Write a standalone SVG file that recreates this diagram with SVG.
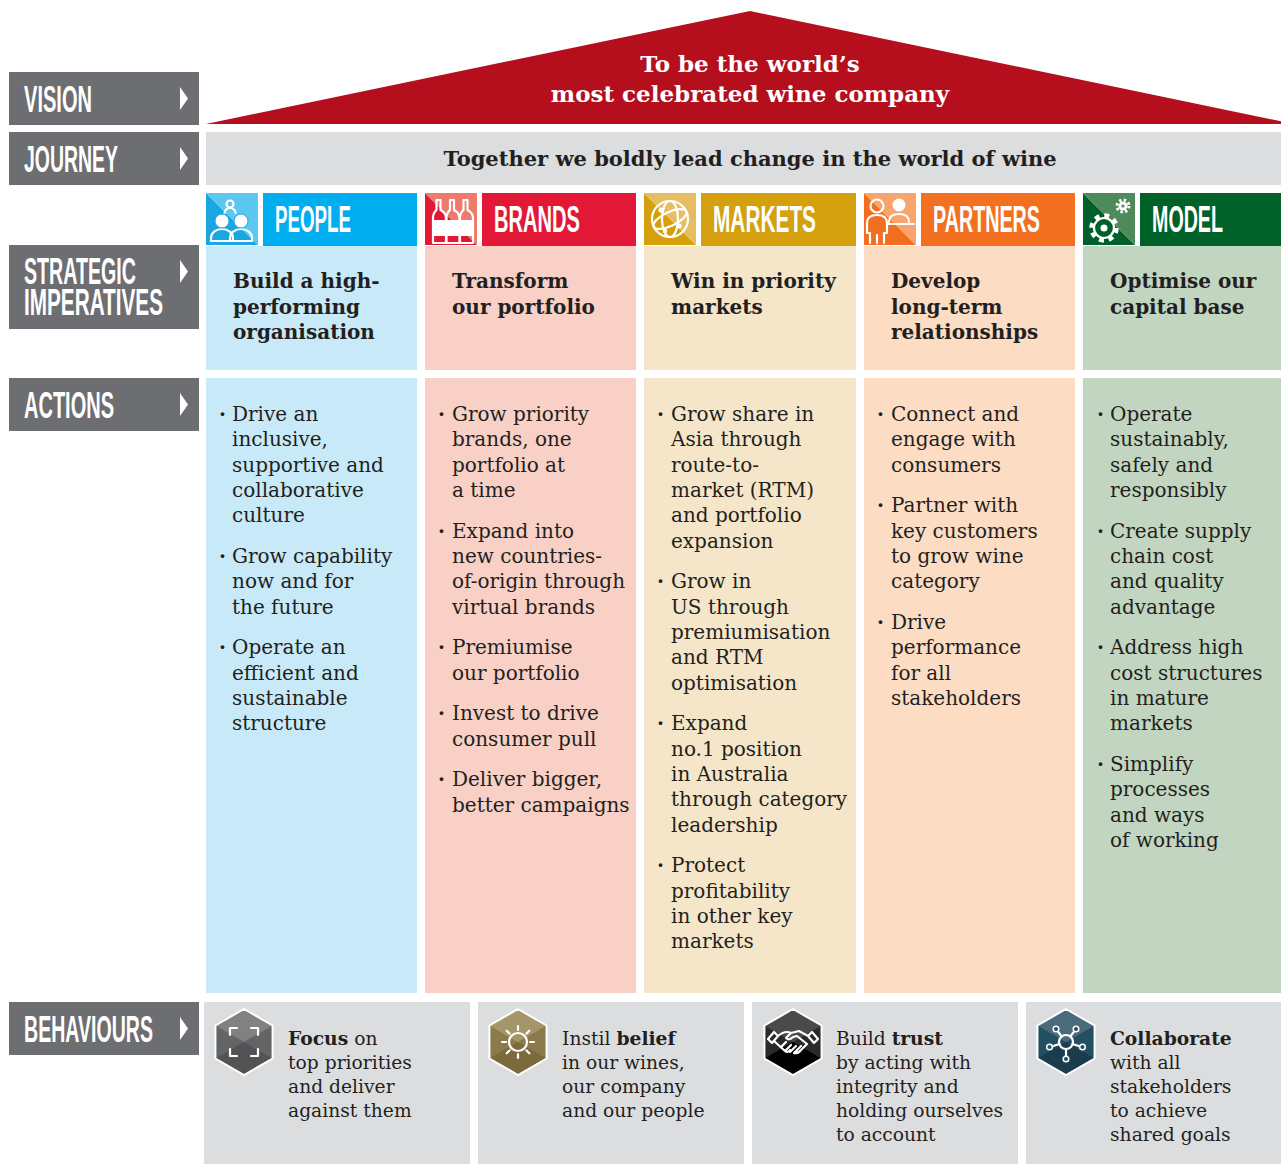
<svg xmlns="http://www.w3.org/2000/svg" xmlns:xlink="http://www.w3.org/1999/xlink" width="1281" height="1164" viewBox="0 0 1281 1164">
<style>
.lbl{fill:#6d6e71}
.lt{font-family:"Liberation Sans Narrow","Liberation Sans",Arial,sans-serif;font-weight:bold;font-size:37px;fill:#fff}
.tri{fill:#fff}
.sp{font-family:"DejaVu Serif",serif;font-weight:bold;font-size:20px;fill:#231f20}
.ac{font-family:"DejaVu Serif",serif;font-size:20px;fill:#231f20}
.bu{font-weight:bold}
.bh{font-family:"DejaVu Serif",serif;font-size:18.7px;fill:#231f20}
.b{font-weight:bold}
.ic{fill:none;stroke:#fff;stroke-width:2.2;stroke-linecap:round;stroke-linejoin:round}
.icf{fill:#fff}
.hb{fill:#dcdddf}
</style>
<defs>
<path id="hex" d="M0,-33 L28.58,-16.5 L28.58,16.5 L0,33 L-28.58,16.5 L-28.58,-16.5 Z"/>
<path id="hexTop" d="M-28.58,-16.5 L0,-33 L28.58,-16.5 L0,0 Z"/>
<path id="hexBot" d="M-28.58,16.5 L0,33 L28.58,16.5 L0,0 Z"/>
</defs>
<rect width="1281" height="1164" fill="#fff"/>

<!-- left labels -->
<g id="label-vision">
<rect class="lbl" x="9" y="72" width="190" height="53"/>
<text class="lt" x="24" y="112" textLength="68" lengthAdjust="spacingAndGlyphs">VISION</text>
<polygon class="tri" points="180,87 188,98.5 180,110"/>
</g>
<g id="label-journey">
<rect class="lbl" x="9" y="132" width="190" height="53"/>
<text class="lt" x="24" y="172" textLength="94" lengthAdjust="spacingAndGlyphs">JOURNEY</text>
<polygon class="tri" points="180,147 188,158.5 180,170"/>
</g>
<g id="label-strategic">
<rect class="lbl" x="9" y="245" width="190" height="84"/>
<text class="lt" x="24" y="284" textLength="112" lengthAdjust="spacingAndGlyphs">STRATEGIC</text>
<text class="lt" x="24" y="315" textLength="139" lengthAdjust="spacingAndGlyphs">IMPERATIVES</text>
<polygon class="tri" points="180,260 188,271.5 180,283"/>
</g>
<g id="label-actions">
<rect class="lbl" x="9" y="378" width="190" height="53"/>
<text class="lt" x="24" y="418" textLength="90" lengthAdjust="spacingAndGlyphs">ACTIONS</text>
<polygon class="tri" points="180,393 188,404.5 180,416"/>
</g>
<g id="label-behaviours">
<rect class="lbl" x="9" y="1002" width="190" height="53"/>
<text class="lt" x="24" y="1042" textLength="129" lengthAdjust="spacingAndGlyphs">BEHAVIOURS</text>
<polygon class="tri" points="180,1017 188,1028.5 180,1040"/>
</g>

<!-- vision roof -->
<g id="vision">
<polygon points="206,124 750,11 1281,121.3 1281,124" fill="#b50e1d"/>
<text font-family="DejaVu Serif,serif" font-weight="bold" font-size="23" fill="#fff" text-anchor="middle"><tspan x="750" y="72">To be the world’s</tspan><tspan x="750" y="102">most celebrated wine company</tspan></text>
</g>

<!-- journey -->
<g id="journey">
<rect x="206" y="132" width="1075" height="53" fill="#dcdddf"/>
<text x="750" y="166" text-anchor="middle" font-family="DejaVu Serif,serif" font-weight="bold" font-size="21" fill="#231f20">Together we boldly lead change in the world of wine</text>
</g>

<!-- PEOPLE -->
<g id="people">
<polygon points="206,193 206,245 258,245" fill="#1aa6df"/>
<polygon points="206,193 258,193 258,245" fill="#5cc7f1"/>
<circle class="ic" cx="230" cy="204" r="3.5"/>
<path class="ic" d="M224.5,213 a5.5,5 0 0 1 11,0"/>
<path class="ic" d="M211,241 v-3 a11,9 0 0 1 22,0 v3 z"/>
<path class="ic" d="M230,241 v-3 a11,9 0 0 1 22,0 v3 z"/>
<circle cx="222" cy="221" r="7" fill="#fff" stroke="#1aa6df" stroke-width="1"/>
<circle cx="241" cy="221" r="7" fill="#fff" stroke="#1aa6df" stroke-width="1"/>
<rect x="263" y="193" width="154" height="53" fill="#00aeef"/>
<text class="lt" x="275" y="232" textLength="76" lengthAdjust="spacingAndGlyphs">PEOPLE</text>
<rect x="206" y="246" width="211" height="124" fill="#c7e9f8"/>
<text class="sp"><tspan x="233" y="288">Build a high-</tspan><tspan x="233" y="314">performing</tspan><tspan x="233" y="339">organisation</tspan></text>
<rect x="206" y="378" width="211" height="615" fill="#c7e9f8"/>
<text class="ac">
<tspan x="219" y="421" class="bu">·</tspan><tspan x="232">Drive an</tspan>
<tspan x="232" dy="25.35">inclusive,</tspan>
<tspan x="232" dy="25.35">supportive and</tspan>
<tspan x="232" dy="25.35">collaborative</tspan>
<tspan x="232" dy="25.35">culture</tspan>
<tspan x="219" dy="40.6" class="bu">·</tspan><tspan x="232">Grow capability</tspan>
<tspan x="232" dy="25.35">now and for</tspan>
<tspan x="232" dy="25.35">the future</tspan>
<tspan x="219" dy="40.6" class="bu">·</tspan><tspan x="232">Operate an</tspan>
<tspan x="232" dy="25.35">efficient and</tspan>
<tspan x="232" dy="25.35">sustainable</tspan>
<tspan x="232" dy="25.35">structure</tspan>
</text>
</g>

<!-- BRANDS -->
<g id="brands">
<polygon points="425,193 425,245 477,245" fill="#e31837"/>
<polygon points="425,193 477,193 477,245" fill="#ef7a6b"/>
<path class="ic" d="M436.5,200 h4 v10 q5.5,3 5.5,8 v25 h-13 v-25 q0,-5 3.5,-8 z"/>
<path class="ic" d="M450,200 h4 v10 q5.5,3 5.5,8 v25 h-13 v-25 q0,-5 3.5,-8 z"/>
<path class="ic" d="M463.5,200 h4 v10 q5.5,3 5.5,8 v25 h-13 v-25 q0,-5 3.5,-8 z"/>
<rect class="icf" x="433" y="220" width="13" height="16"/>
<rect class="icf" x="446.5" y="220" width="13" height="16"/>
<rect class="icf" x="460" y="220" width="13" height="16"/>
<rect x="482" y="193" width="154" height="53" fill="#e31837"/>
<text class="lt" x="494" y="232" textLength="86" lengthAdjust="spacingAndGlyphs">BRANDS</text>
<rect x="425" y="246" width="211" height="124" fill="#f8d0c6"/>
<text class="sp"><tspan x="452" y="288">Transform</tspan><tspan x="452" y="314">our portfolio</tspan></text>
<rect x="425" y="378" width="211" height="615" fill="#f8d0c6"/>
<text class="ac">
<tspan x="438" y="421" class="bu">·</tspan><tspan x="452">Grow priority</tspan>
<tspan x="452" dy="25.35">brands, one</tspan>
<tspan x="452" dy="25.35">portfolio at</tspan>
<tspan x="452" dy="25.35">a time</tspan>
<tspan x="438" dy="40.6" class="bu">·</tspan><tspan x="452">Expand into</tspan>
<tspan x="452" dy="25.35">new countries-</tspan>
<tspan x="452" dy="25.35">of-origin through</tspan>
<tspan x="452" dy="25.35">virtual brands</tspan>
<tspan x="438" dy="40.6" class="bu">·</tspan><tspan x="452">Premiumise</tspan>
<tspan x="452" dy="25.35">our portfolio</tspan>
<tspan x="438" dy="40.6" class="bu">·</tspan><tspan x="452">Invest to drive</tspan>
<tspan x="452" dy="25.35">consumer pull</tspan>
<tspan x="438" dy="40.6" class="bu">·</tspan><tspan x="452">Deliver bigger,</tspan>
<tspan x="452" dy="25.35">better campaigns</tspan>
</text>
</g>

<!-- MARKETS -->
<g id="markets">
<polygon points="644,193 644,245 696,245" fill="#d4a00d"/>
<polygon points="644,193 696,193 696,245" fill="#e6bd62"/>
<circle class="ic" cx="670" cy="219" r="18" stroke-width="2.5"/>
<ellipse class="ic" cx="670" cy="219" rx="8" ry="18"/>
<ellipse class="ic" cx="670" cy="219" rx="18" ry="7" transform="rotate(-25 670 219)"/>
<circle class="icf" cx="661" cy="210" r="2.6"/>
<circle class="icf" cx="679" cy="226" r="2.6"/>
<circle class="icf" cx="665" cy="231" r="2.2"/>
<rect x="701" y="193" width="155" height="53" fill="#d4a00d"/>
<text class="lt" x="713" y="232" textLength="103" lengthAdjust="spacingAndGlyphs">MARKETS</text>
<rect x="644" y="246" width="212" height="124" fill="#f5e6c9"/>
<text class="sp"><tspan x="671" y="288">Win in priority</tspan><tspan x="671" y="314">markets</tspan></text>
<rect x="644" y="378" width="212" height="615" fill="#f5e6c9"/>
<text class="ac">
<tspan x="657" y="421" class="bu">·</tspan><tspan x="671">Grow share in</tspan>
<tspan x="671" dy="25.35">Asia through</tspan>
<tspan x="671" dy="25.35">route-to-</tspan>
<tspan x="671" dy="25.35">market (RTM)</tspan>
<tspan x="671" dy="25.35">and portfolio</tspan>
<tspan x="671" dy="25.35">expansion</tspan>
<tspan x="657" dy="40.6" class="bu">·</tspan><tspan x="671">Grow in</tspan>
<tspan x="671" dy="25.35">US through</tspan>
<tspan x="671" dy="25.35">premiumisation</tspan>
<tspan x="671" dy="25.35">and RTM</tspan>
<tspan x="671" dy="25.35">optimisation</tspan>
<tspan x="657" dy="40.6" class="bu">·</tspan><tspan x="671">Expand</tspan>
<tspan x="671" dy="25.35">no.1 position</tspan>
<tspan x="671" dy="25.35">in Australia</tspan>
<tspan x="671" dy="25.35">through category</tspan>
<tspan x="671" dy="25.35">leadership</tspan>
<tspan x="657" dy="40.6" class="bu">·</tspan><tspan x="671">Protect</tspan>
<tspan x="671" dy="25.35">profitability</tspan>
<tspan x="671" dy="25.35">in other key</tspan>
<tspan x="671" dy="25.35">markets</tspan>
</text>
</g>

<!-- PARTNERS -->
<g id="partners">
<polygon points="864,193 864,245 916,245" fill="#f26f21"/>
<polygon points="864,193 916,193 916,245" fill="#f8a46d"/>
<circle class="ic" cx="877" cy="206" r="6.5"/>
<path class="ic" d="M870,243 V233 H867 V223 Q867,215 877,215 Q887,215 887,223 V233 H884 V243 M877,235 V243"/>
<circle class="icf" cx="899" cy="205" r="6.5"/>
<path class="ic" d="M889,222 Q889,214 899,214 Q909,214 909,222 M887,224 H914"/>
<rect x="921" y="193" width="154" height="53" fill="#f37021"/>
<text class="lt" x="933" y="232" textLength="107" lengthAdjust="spacingAndGlyphs">PARTNERS</text>
<rect x="864" y="246" width="211" height="124" fill="#fddcc4"/>
<text class="sp"><tspan x="891" y="288">Develop</tspan><tspan x="891" y="314">long-term</tspan><tspan x="891" y="339">relationships</tspan></text>
<rect x="864" y="378" width="211" height="615" fill="#fddcc4"/>
<text class="ac">
<tspan x="877" y="421" class="bu">·</tspan><tspan x="891">Connect and</tspan>
<tspan x="891" dy="25.35">engage with</tspan>
<tspan x="891" dy="25.35">consumers</tspan>
<tspan x="877" dy="40.6" class="bu">·</tspan><tspan x="891">Partner with</tspan>
<tspan x="891" dy="25.35">key customers</tspan>
<tspan x="891" dy="25.35">to grow wine</tspan>
<tspan x="891" dy="25.35">category</tspan>
<tspan x="877" dy="40.6" class="bu">·</tspan><tspan x="891">Drive</tspan>
<tspan x="891" dy="25.35">performance</tspan>
<tspan x="891" dy="25.35">for all</tspan>
<tspan x="891" dy="25.35">stakeholders</tspan>
</text>
</g>

<!-- MODEL -->
<g id="model">
<polygon points="1083,193 1083,245 1135,245" fill="#005f2b"/>
<polygon points="1083,193 1135,193 1135,245" fill="#4f8b5a"/>
<circle class="ic" cx="1104" cy="228" r="10"/>
<circle cx="1104" cy="228" r="12.5" fill="none" stroke="#fff" stroke-width="4.5" stroke-dasharray="4.9 4.9"/>
<circle class="icf" cx="1104" cy="228" r="3.5"/>
<circle class="icf" cx="1123" cy="206" r="4.5"/>
<circle cx="1123" cy="206" r="6" fill="none" stroke="#fff" stroke-width="3" stroke-dasharray="2.36 2.36"/>
<circle cx="1123" cy="206" r="1.6" fill="#4f8b5a"/>
<rect x="1140" y="193" width="141" height="53" fill="#006129"/>
<text class="lt" x="1152" y="232" textLength="71" lengthAdjust="spacingAndGlyphs">MODEL</text>
<rect x="1083" y="246" width="198" height="124" fill="#c2d5c0"/>
<text class="sp"><tspan x="1110" y="288">Optimise our</tspan><tspan x="1110" y="314">capital base</tspan></text>
<rect x="1083" y="378" width="198" height="615" fill="#c2d5c0"/>
<text class="ac">
<tspan x="1097" y="421" class="bu">·</tspan><tspan x="1110">Operate</tspan>
<tspan x="1110" dy="25.35">sustainably,</tspan>
<tspan x="1110" dy="25.35">safely and</tspan>
<tspan x="1110" dy="25.35">responsibly</tspan>
<tspan x="1097" dy="40.6" class="bu">·</tspan><tspan x="1110">Create supply</tspan>
<tspan x="1110" dy="25.35">chain cost</tspan>
<tspan x="1110" dy="25.35">and quality</tspan>
<tspan x="1110" dy="25.35">advantage</tspan>
<tspan x="1097" dy="40.6" class="bu">·</tspan><tspan x="1110">Address high</tspan>
<tspan x="1110" dy="25.35">cost structures</tspan>
<tspan x="1110" dy="25.35">in mature</tspan>
<tspan x="1110" dy="25.35">markets</tspan>
<tspan x="1097" dy="40.6" class="bu">·</tspan><tspan x="1110">Simplify</tspan>
<tspan x="1110" dy="25.35">processes</tspan>
<tspan x="1110" dy="25.35">and ways</tspan>
<tspan x="1110" dy="25.35">of working</tspan>
</text>
</g>

<!-- BEHAVIOURS -->
<g id="behaviour-focus">
<rect class="hb" x="204" y="1002" width="266" height="162"/>
<g transform="translate(244,1042)">
<use xlink:href="#hex" fill="#636466"/>
<use xlink:href="#hexTop" fill="#808183"/>
<use xlink:href="#hexBot" fill="#525355"/>
<use xlink:href="#hex" fill="none" stroke="#fff" stroke-width="2"/>
<path class="ic" stroke-width="1.8" d="M-14,-7 V-14 H-7 M7,-14 H14 V-7 M14,7 V14 H7 M-7,14 H-14 V7"/>
</g>
<text class="bh"><tspan x="288" y="1045"><tspan class="b">Focus</tspan> on</tspan><tspan x="288" dy="24">top priorities</tspan><tspan x="288" dy="24">and deliver</tspan><tspan x="288" dy="24">against them</tspan></text>
</g>

<g id="behaviour-belief">
<rect class="hb" x="478" y="1002" width="266" height="162"/>
<g transform="translate(518,1042)">
<use xlink:href="#hex" fill="#8a7a4c"/>
<use xlink:href="#hexTop" fill="#a59669"/>
<use xlink:href="#hexBot" fill="#7a6a3c"/>
<use xlink:href="#hex" fill="none" stroke="#fff" stroke-width="2"/>
<circle class="ic" r="9" stroke-width="1.8"/>
<path class="ic" stroke-width="1.8" d="M12,0 H16 M8.49,8.49 L11.31,11.31 M0,12 V16 M-8.49,8.49 L-11.31,11.31 M-12,0 H-16 M-8.49,-8.49 L-11.31,-11.31 M0,-12 V-16 M8.49,-8.49 L11.31,-11.31"/>
</g>
<text class="bh"><tspan x="562" y="1045">Instil <tspan class="b">belief</tspan></tspan><tspan x="562" dy="24">in our wines,</tspan><tspan x="562" dy="24">our company</tspan><tspan x="562" dy="24">and our people</tspan></text>
</g>

<g id="behaviour-trust">
<rect class="hb" x="752" y="1002" width="266" height="162"/>
<g transform="translate(793,1042)">
<use xlink:href="#hex" fill="#2a2a2b"/>
<use xlink:href="#hexTop" fill="#4a4a4c"/>
<use xlink:href="#hexBot" fill="#000"/>
<use xlink:href="#hex" fill="none" stroke="#fff" stroke-width="2"/>
<path class="ic" stroke-width="1.5" d="M-25,-3 L-19,-10 L-15,-6 L-21,1 Z M25,-3 L19,-10 L15,-6 L21,1 Z M-15,-6 Q-8,-12 -2,-9 L6,-11 L15,-6 M-2,-9 L-7,-4 Q-4,-1 0,-5 L4,-6 L14,2 M-19,-1 L-8,9 Q-5,11 -3,8 M-12,5 L-7,0 M-8,9 L-2,3 M-3,10 L3,4 M1,11 L8,4 M14,2 L8,8 Q5,12 1,11"/>
</g>
<text class="bh"><tspan x="836" y="1045">Build <tspan class="b">trust</tspan></tspan><tspan x="836" dy="24">by acting with</tspan><tspan x="836" dy="24">integrity and</tspan><tspan x="836" dy="24">holding ourselves</tspan><tspan x="836" dy="24">to account</tspan></text>
</g>

<g id="behaviour-collaborate">
<rect class="hb" x="1026" y="1002" width="255" height="162"/>
<g transform="translate(1066,1042)">
<use xlink:href="#hex" fill="#234f63"/>
<use xlink:href="#hexTop" fill="#4b6a7b"/>
<use xlink:href="#hexBot" fill="#1a3c4c"/>
<use xlink:href="#hex" fill="none" stroke="#fff" stroke-width="2"/>
<circle class="ic" r="7" stroke-width="1.8"/>
<path class="ic" stroke-width="1.6" d="M-6.6,2 L-13.5,4.2 M-4.3,-5.5 L-8.2,-10.6 M4.3,-5.5 L8.2,-10.6 M6.6,2 L13.5,4.2 M0,7 V14"/>
<g fill="#234f63" stroke="#fff" stroke-width="1.5">
<circle cx="-16.5" cy="5" r="2.8"/>
<circle cx="-10" cy="-13" r="2.8"/>
<circle cx="10" cy="-13" r="2.8"/>
<circle cx="16.5" cy="5" r="2.8"/>
<circle cx="0" cy="17" r="2.8"/>
</g>
</g>
<text class="bh"><tspan x="1110" y="1045" class="b">Collaborate</tspan><tspan x="1110" dy="24">with all</tspan><tspan x="1110" dy="24">stakeholders</tspan><tspan x="1110" dy="24">to achieve</tspan><tspan x="1110" dy="24">shared goals</tspan></text>
</g>
</svg>
